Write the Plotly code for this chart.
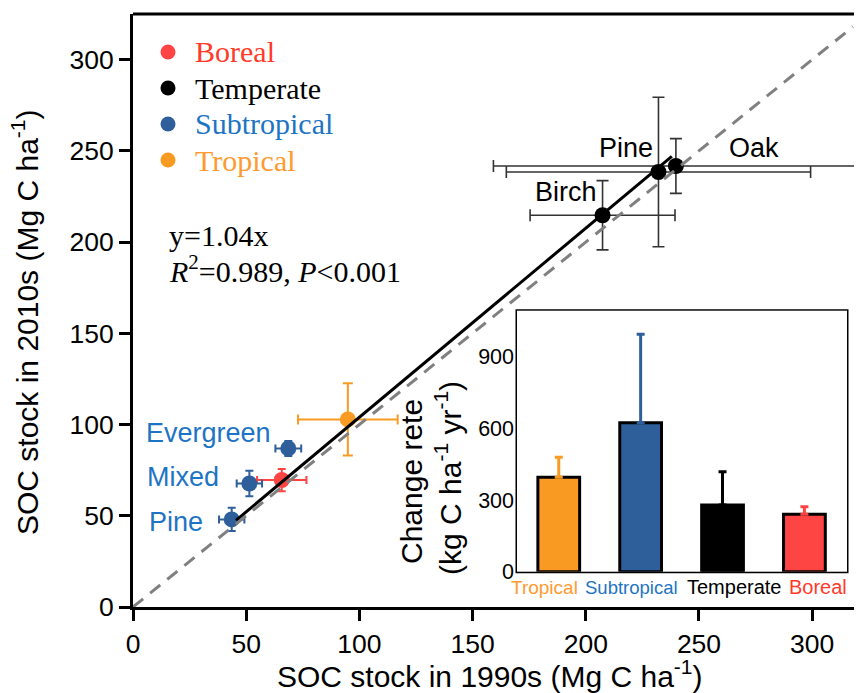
import plotly.graph_objects as go

# ---------------- data ----------------
boreal_x = [65.7]
boreal_y = [69.6]
boreal_xerr = [10.9]
boreal_yerr = [6.1]

temperate_names = ["Birch", "Pine", "Oak"]
temperate_x = [207.4, 232.1, 239.8]
temperate_y = [214.7, 238.4, 241.7]
temperate_xerr = [32.0, 67.2, 80.6]
temperate_yerr = [19.0, 41.0, 15.0]

subtropical_names = ["Pine", "Mixed", "Evergreen"]
subtropical_x = [43.6, 51.4, 68.6]
subtropical_y = [48.0, 67.7, 86.9]
subtropical_xerr = [5.6, 5.6, 5.7]
subtropical_yerr = [6.4, 7.0, 4.1]

tropical_x = [94.9]
tropical_y = [102.8]
tropical_xerr = [22.0]
tropical_yerr = [19.8]

reg_x = [45.5, 238.0]
reg_y = [47.5, 247.0]
one_to_one_x = [0, 318]
one_to_one_y = [0, 318]

x_ticks = [0, 50, 100, 150, 200, 250, 300]
y_ticks = [0, 50, 100, 150, 200, 250, 300]

legend_labels = ["Boreal", "Temperate", "Subtropical", "Tropical"]

inset_categories = ["Tropical", "Subtropical", "Temperate", "Boreal"]
inset_rates = [395, 623, 279, 240]
inset_err = [84, 370, 139, 32]
inset_ticks = [0, 300, 600, 900]

# ---------------- styles ----------------
SANS = "Liberation Sans"
SERIF = "Liberation Serif"
C_BOREAL = "#FF4444"
C_TEMP = "#000000"
C_SUB = "#2F5F9A"
C_TROP = "#F99B22"
T_BOREAL = "#FF3A2A"
T_SUB = "#1E74C4"
T_TROP = "#FF9A30"

# the page has an 8px body margin; the figure is sized so that it fills the window
OFF = 8
W, H = 862 - OFF, 693 - OFF
ML, MR, MT, MB = 133 - OFF, 0, 14 - OFF, 86
PW = W - ML - MR
PH = H - MT - MB


def px(xp):  # page pixel x -> paper x
    return (xp - OFF - ML) / PW


def py(yp):  # page pixel y -> paper y
    return (H - MB - (yp - OFF)) / PH


fig = go.Figure()


def pts(x, y, xe, ye, mcolor, ecolor, ethick, ewidth):
    fig.add_trace(go.Scatter(
        x=x, y=y, mode="markers", showlegend=False,
        marker=dict(size=16, color=mcolor),
        error_x=dict(type="data", array=xe, color=ecolor, thickness=ethick, width=ewidth),
        error_y=dict(type="data", array=ye, color=ecolor, thickness=ethick, width=ewidth),
        xaxis="x", yaxis="y",
    ))


pts(boreal_x, boreal_y, boreal_xerr, boreal_yerr, C_BOREAL, C_BOREAL, 2, 4)
pts(temperate_x, temperate_y, temperate_xerr, temperate_yerr, C_TEMP, "#333333", 1.6, 6)
pts(subtropical_x, subtropical_y, subtropical_xerr, subtropical_yerr, C_SUB, C_SUB, 2, 4)
pts(tropical_x, tropical_y, tropical_xerr, tropical_yerr, C_TROP, C_TROP, 2, 5)

fig.add_trace(go.Scatter(x=reg_x, y=reg_y, mode="lines", showlegend=False,
                         line=dict(color="black", width=3), xaxis="x", yaxis="y"))
fig.add_trace(go.Scatter(x=one_to_one_x, y=one_to_one_y, mode="lines", showlegend=False,
                         line=dict(color="#808080", width=3, dash="13px,9px"),
                         xaxis="x", yaxis="y"))

# inset bars
bar_colors = [C_TROP, C_SUB, C_TEMP, C_BOREAL]
err_colors = [C_TROP, C_SUB, "#000000", C_BOREAL]
for i, (cat, v, e) in enumerate(zip(inset_categories, inset_rates, inset_err)):
    fig.add_trace(go.Bar(
        x=[i], y=[v], width=0.51, showlegend=False,
        marker=dict(color=bar_colors[i], line=dict(color="black", width=3)),
        error_y=dict(type="data", array=[e], arrayminus=[0], symmetric=False,
                     color=err_colors[i], thickness=3, width=4),
        xaxis="x2", yaxis="y2",
    ))

axis_common = dict(showgrid=False, zeroline=False, showline=True, linecolor="black",
                   linewidth=3, ticks="outside", ticklen=11, tickwidth=2.5,
                   tickcolor="black", tickfont=dict(family=SANS, size=26.5, color="black"))

fig.update_layout(
    width=W, height=H,
    margin=dict(l=ML, r=MR, t=MT, b=MB, autoexpand=False),
    paper_bgcolor="white", plot_bgcolor="white",
    barmode="overlay",
    showlegend=False,
    xaxis=dict(range=[0, 322], tickvals=x_ticks, domain=[0, 1], anchor="y", **axis_common),
    yaxis=dict(range=[0, 325], tickvals=y_ticks, domain=[0, 1], anchor="x", **axis_common),
    xaxis2=dict(domain=[px(517), px(847)], anchor="y2", range=[-0.51, 3.52],
                showgrid=False, zeroline=False, showline=False, showticklabels=False, ticks=""),
    yaxis2=dict(domain=[py(571.7), py(310.7)], anchor="x2", range=[0, 1092],
                tickvals=inset_ticks, showgrid=False, zeroline=False, showline=False,
                ticks="", ticklabelstandoff=2,
                tickfont=dict(family=SANS, size=21.5, color="black")),
)

shapes = [
    dict(type="line", xref="paper", yref="paper", x0=0, x1=1, y0=1, y1=1,
         line=dict(color="black", width=3)),
    dict(type="rect", xref="x2 domain", yref="y2 domain", x0=0, x1=1, y0=0, y1=1,
         fillcolor="white", line=dict(color="black", width=3), layer="below"),
]

ann = []


def text(x, y, s, size, color="black", family=SANS, xanchor="center", yanchor="middle",
         xref="paper", yref="paper", angle=0, xshift=0):
    ann.append(dict(x=x, y=y, text=s, xref=xref, yref=yref, showarrow=False,
                    xanchor=xanchor, yanchor=yanchor, textangle=angle, xshift=xshift,
                    font=dict(family=family, size=size, color=color)))


# manual legend (marker dot + coloured serif text)
leg_marker_colors = [C_BOREAL, C_TEMP, C_SUB, C_TROP]
leg_text_colors = [T_BOREAL, "#000000", T_SUB, T_TROP]
leg_y = [52, 88, 124, 160]
for lab, mc, tc, yy in zip(legend_labels, leg_marker_colors, leg_text_colors, leg_y):
    shapes.append(dict(type="circle", xref="paper", yref="paper",
                       x0=px(160.5), x1=px(175.5), y0=py(yy + 7.5), y1=py(yy - 7.5),
                       fillcolor=mc, line=dict(width=0)))
    text(px(193), py(yy), lab, 30, tc, family=SERIF, xanchor="left")

fig.update_layout(shapes=shapes)

# axis titles
text(px(490), py(674), "SOC stock in 1990s (Mg C ha<sup>-1</sup>)", 30)
text(px(25), py(322), "SOC stock in 2010s (Mg C ha<sup>-1</sup>)", 30, angle=-90)

# point labels
text(px(273), py(433), "Evergreen", 27, T_SUB, xanchor="right")
text(px(221), py(477), "Mixed", 27, T_SUB, xanchor="right")
text(px(205), py(522), "Pine", 27, T_SUB, xanchor="right")
text(px(655), py(148), "Pine", 27, "black", xanchor="right")
text(px(727), py(148), "Oak", 27, "black", xanchor="left")
text(px(599), py(192), "Birch", 27, "black", xanchor="right")

# equation
text(px(167), py(235), "y=1.04x", 30, family=SERIF, xanchor="left")
text(px(167), py(269), "<i>R</i><sup>2</sup>=0.989, <i>P</i>&lt;0.001", 30, family=SERIF, xanchor="left")

# inset titles
text(px(411), py(482), "Change rete", 30, angle=-90)
text(px(448), py(478), "(kg C ha<sup>-1</sup> yr<sup>-1</sup>)", 30, angle=-90)

# inset category labels
cat_colors = [T_TROP, T_SUB, "black", T_BOREAL]
cat_shift = [-14, -9, 12, 14]
cat_size = [19, 18.5, 20, 20]
for i, cat in enumerate(inset_categories):
    text(i, py(587), cat, cat_size[i], cat_colors[i], xref="x2", xshift=cat_shift[i])

fig.update_layout(annotations=ann)

fig.write_html("out.html")
